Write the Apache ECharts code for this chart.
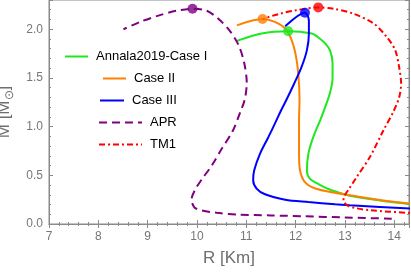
<!DOCTYPE html>
<html>
<head>
<meta charset="utf-8">
<script src="https://cdn.jsdelivr.net/npm/echarts/dist/echarts.min.js"></script>
<style>html,body{margin:0;padding:0;background:#fff}#c{width:411px;height:272px}</style>
</head>
<body>
<div id="c"></div>
<script>
// Mass-radius curves (R in km, M in solar masses)
const case1R = [14.5, 14.32, 13.85, 13.1, 12.73, 12.5, 12.29, 12.23, 12.26, 12.36, 12.5, 12.6, 12.7, 12.75, 12.75, 12.7, 12.6, 12.45, 12.33, 11.85, 11.31, 10.81];
const case1M = [0.195, 0.205, 0.232, 0.29, 0.346, 0.40, 0.466, 0.55, 0.723, 0.894, 1.066, 1.2, 1.35, 1.5, 1.65, 1.78, 1.854, 1.92, 1.957, 1.98, 1.957, 1.88];

const case2R = [14.5, 14.32, 13.85, 13.1, 12.8, 12.4, 12.19, 12.09, 12.07, 12.07, 12.08, 12.06, 12.01, 11.92, 11.79, 11.58, 11.33, 10.81];
const case2M = [0.2, 0.21, 0.237, 0.295, 0.32, 0.364, 0.43, 0.55, 0.723, 1.066, 1.27, 1.51, 1.716, 1.888, 2.007, 2.076, 2.104, 2.04];

const case3R = [14.5, 14.32, 13.1, 12.8, 12.26, 11.79, 11.38, 11.21, 11.14, 11.16, 11.28, 11.45, 11.58, 11.70, 11.81, 11.97, 12.12, 12.23, 12.27, 12.27, 12.19, 11.79];
const case3M = [0.15, 0.158, 0.192, 0.202, 0.226, 0.25, 0.305, 0.364, 0.45, 0.55, 0.723, 0.894, 1.03, 1.16, 1.27, 1.44, 1.61, 1.785, 1.957, 2.09, 2.17, 2.03];

const aprR = [13.95, 13.0, 12.19, 11.5, 10.83, 10.4, 10.1, 9.95, 9.89, 9.96, 10.1, 10.3, 10.5, 10.72, 10.88, 10.97, 11.01, 10.96, 10.85, 10.67, 10.45, 10.2, 9.91, 9.59, 9.25, 8.85, 8.51];
const aprM = [0.055, 0.067, 0.079, 0.088, 0.097, 0.115, 0.14, 0.17, 0.25, 0.35, 0.46, 0.6, 0.77, 0.95, 1.15, 1.28, 1.45, 1.65, 1.83, 1.98, 2.1, 2.19, 2.21, 2.19, 2.145, 2.076, 2.0];

const tm1R = [14.5, 14.32, 13.51, 13.2, 13.05, 12.97, 13.0, 13.07, 13.24, 13.51, 13.78, 13.98, 14.1, 14.14, 14.1, 14.02, 13.85, 13.58, 13.17, 12.77, 12.46, 12.02, 11.69, 11.42, 11.33];
const tm1M = [0.105, 0.113, 0.141, 0.165, 0.19, 0.244, 0.295, 0.35, 0.483, 0.69, 0.96, 1.15, 1.3, 1.44, 1.61, 1.785, 1.92, 2.06, 2.16, 2.21, 2.224, 2.196, 2.16, 2.12, 2.10];

// Maximum-mass points (R, M)
const maxR = [11.85, 11.33, 12.19, 9.91, 12.46];
const maxM = [1.98, 2.104, 2.17, 2.21, 2.224];

const names = ['Annala2019-Case I', 'Case II', 'Case III', 'APR', 'TM1'];
const colors = ['#1ee81e', '#ff8000', '#0000ff', '#800080', '#ff0000'];
const xTicks = [7, 8, 9, 10, 11, 12, 13, 14];
const yTicks = [0.0, 0.5, 1.0, 1.5, 2.0];

const zip = (a, b) => a.map((v, i) => [v, b[i]]);
const curves = [zip(case1R, case1M), zip(case2R, case2M), zip(case3R, case3M), zip(aprR, aprM), zip(tm1R, tm1M)];
const dashes = ['solid', 'solid', 'solid', [8, 5], [6, 3, 2, 3]];

const series = curves.map((d, i) => ({
  name: names[i], type: 'line', data: d, symbol: 'none', showSymbol: false, smooth: 0.3,
  lineStyle: { color: colors[i], width: 2, type: dashes[i], cap: 'butt' },
  itemStyle: { color: colors[i] }, z: i === 0 ? 2 : 3
}));
maxR.forEach((r, i) => series.push({
  name: 'max' + i, type: 'scatter', data: [[r, maxM[i]]], symbolSize: 10,
  itemStyle: { color: colors[i] }, z: 5
}));

const legendPos = [
  { left: 64, top: 50, w: 23 },
  { left: 102, top: 72, w: 23 },
  { left: 99, top: 94, w: 24 },
  { left: 98, top: 116, w: 43 },
  { left: 98, top: 138, w: 43 }
];
const legends = names.map((n, i) => ({
  data: [n], left: legendPos[i].left, top: legendPos[i].top, padding: 0,
  itemWidth: legendPos[i].w, itemHeight: 14, selectedMode: false,
  itemStyle: { opacity: 0, borderWidth: 0 },
  textStyle: { fontSize: 13, color: '#000', fontFamily: 'Liberation Sans, Arial, sans-serif', padding: [0, 0, 0, 3] }
}));

const gray = '#8a8a8a';
const tickStyle = { show: true, inside: true, length: 4, lineStyle: { color: gray } };
const minorStyle = { show: true, splitNumber: 5, length: 2, lineStyle: { color: gray } };
const chart = echarts.init(document.getElementById('c'), null, { renderer: 'canvas' });
chart.setOption({
  animation: false,
  backgroundColor: '#fff',
  grid: { left: 49, right: 2, top: 0, bottom: 48, show: true, borderColor: gray, borderWidth: 1,
    containLabel: false, outerBoundsMode: 'none' },
  legend: legends,
  xAxis: [{
    type: 'value', min: 7, max: 14.3, interval: 1,
    name: 'R [Km]', nameLocation: 'middle', nameGap: 26,
    nameTextStyle: { fontSize: 17, color: '#6f6f6f', fontFamily: 'Liberation Sans, Arial, sans-serif' },
    axisLine: { show: true, lineStyle: { color: gray } },
    axisTick: tickStyle, minorTick: minorStyle, splitLine: { show: false },
    axisLabel: { color: '#777', fontSize: 12, margin: 7, showMaxLabel: false, fontFamily: 'Liberation Sans, Arial, sans-serif',
      formatter: v => xTicks.includes(v) ? String(v) : '' }
  }, {
    type: 'value', min: 7, max: 14.3, interval: 1, position: 'top',
    axisLine: { show: true, lineStyle: { color: gray } },
    axisTick: tickStyle, minorTick: minorStyle, splitLine: { show: false }, axisLabel: { show: false }
  }],
  yAxis: [{
    type: 'value', min: 0, max: 2.3, interval: 0.5,
    name: 'M [M{s|⊙}]', nameLocation: 'middle', nameGap: 33,
    nameTextStyle: { fontSize: 17, color: '#6f6f6f', fontFamily: 'Liberation Sans, Arial, sans-serif',
      rich: { s: { fontSize: 12, color: '#6f6f6f', verticalAlign: 'bottom', padding: [10, 0, 0, 0] } } },
    axisLine: { show: true, lineStyle: { color: gray } },
    axisTick: tickStyle, minorTick: minorStyle, splitLine: { show: false },
    axisLabel: { color: '#777', fontSize: 12, margin: 6, showMaxLabel: false, fontFamily: 'Liberation Sans, Arial, sans-serif',
      formatter: v => yTicks.includes(v) ? v.toFixed(1) : '' }
  }, {
    type: 'value', min: 0, max: 2.3, interval: 0.5, position: 'right',
    axisLine: { show: true, lineStyle: { color: gray } },
    axisTick: tickStyle, minorTick: minorStyle, splitLine: { show: false }, axisLabel: { show: false }
  }],
  series: series
});
</script>
</body>
</html>
